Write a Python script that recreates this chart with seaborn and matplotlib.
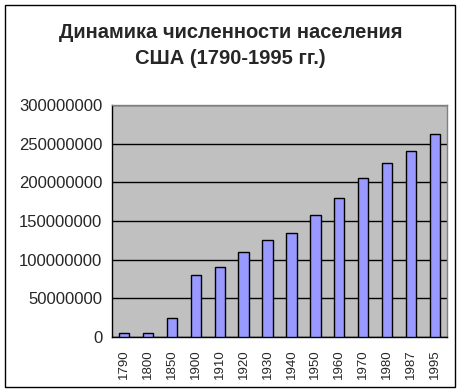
import numpy as np
import pandas as pd
import seaborn as sns
import matplotlib.pyplot as plt
from matplotlib.patches import Rectangle

years = ['1790', '1800', '1850', '1900', '1910', '1920', '1930',
         '1940', '1950', '1960', '1970', '1980', '1987', '1995']
population = [4900000, 5300000, 24200000, 79800000, 90100000, 109500000, 125000000,
              134000000, 157400000, 179300000, 205200000, 224600000, 240100000, 262100000]
y_ticks = [0, 50000000, 100000000, 150000000, 200000000, 250000000, 300000000]

df = pd.DataFrame({'Год': years, 'Население': population})

sns.set_style('white')
plt.rcParams['font.family'] = ['Liberation Sans', 'DejaVu Sans']

fig = plt.figure(figsize=(4.61, 3.92), dpi=100)
ax = fig.add_axes([112 / 461, 55 / 392, 335 / 461, 232 / 392])

sns.barplot(x='Год', y='Население', data=df, color='#9999FF', saturation=1,
            width=0.43, edgecolor='black', linewidth=1, ax=ax, zorder=3)

ax.set_facecolor('#C0C0C0')
ax.set_ylim(0, 300000000)
ax.set_xlim(-0.5, len(years) - 0.5)
ax.set_yticks(y_ticks)
ax.set_yticklabels([str(v) for v in y_ticks], fontsize=12)
ax.yaxis.grid(True, color='black', linewidth=1, zorder=0)
ax.set_axisbelow(True)

# x tick labels rotated, tick marks between categories
ax.set_xticks(range(len(years)))
ax.set_xticklabels(years, rotation=90, fontsize=9.5)
ax.tick_params(axis='x', which='major', length=0, pad=9)
ax.set_xticks(np.arange(-0.5, len(years)), minor=True)
ax.tick_params(axis='x', which='minor', length=4, width=1, color='black', direction='out')
ax.tick_params(axis='y', length=4, width=1, color='black', direction='out', pad=3)
ax.set_xlabel('')
ax.set_ylabel('')

for side in ['top', 'right']:
    ax.spines[side].set_color('#808080')
    ax.spines[side].set_linewidth(1)
for side in ['left', 'bottom']:
    ax.spines[side].set_color('black')
    ax.spines[side].set_linewidth(1)

fig.text(0.5, 1 - 32 / 392, 'Динамика численности населения', ha='center', va='center',
         fontsize=14.5, fontweight='bold')
fig.text(0.5, 1 - 59 / 392, 'США (1790-1995 гг.)', ha='center', va='center',
         fontsize=14.5, fontweight='bold')

# chart border
fig.patches.append(Rectangle((5 / 461, 5 / 392), 450 / 461, 382 / 392, transform=fig.transFigure,
                             fill=False, edgecolor='black', linewidth=1))

plt.savefig('out.png', dpi=100)
